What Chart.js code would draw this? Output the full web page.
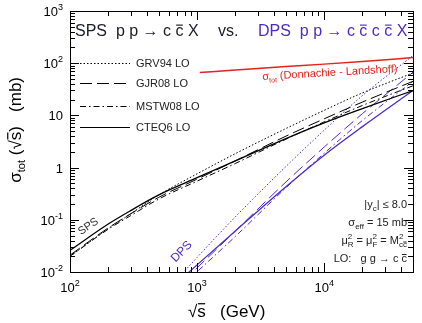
<!DOCTYPE html>
<html>
<head>
<meta charset="utf-8">
<script src="https://cdn.jsdelivr.net/npm/chart.js@4.4.0/dist/chart.umd.min.js"></script>
<style>
  html, body { margin: 0; padding: 0; background: #fff; }
</style>
</head>
<body>
<canvas id="xsec" width="422" height="323"></canvas>
<script>
// sqrt(s) in GeV
var energies = [100, 200, 300, 500, 1000, 2000, 5000, 10000, 20000, 50000];

// single parton scattering pp -> c cbar X, mb
var spsGRV94 = [0.020, 0.068, 0.13, 0.30, 0.76, 1.85, 5.6, 12.5, 27, 65];
var spsGJR08 = [0.021, 0.070, 0.13, 0.27, 0.60, 1.35, 4.0, 8.6, 18, 45];
var spsMSTW08 = [0.020, 0.066, 0.12, 0.25, 0.55, 1.2, 3.5, 7.5, 15.5, 37];
var spsCTEQ6 = [0.026, 0.083, 0.15, 0.30, 0.64, 1.35, 3.6, 7.2, 13.5, 30];

// double parton scattering pp -> c cbar c cbar X, mb
var dpsEnergies = [500, 1000, 2000, 5000, 10000, 20000, 50000];
var dpsGRV94 = [0.003, 0.019, 0.114, 1.05, 5.2, 24, 140];
var dpsGJR08 = [0.0024, 0.012, 0.061, 0.53, 2.47, 10.8, 67];
var dpsMSTW08 = [0.0021, 0.0101, 0.048, 0.41, 1.88, 8.0, 45];
var dpsCTEQ6 = [0.003, 0.0137, 0.061, 0.43, 1.73, 6.1, 30];

// sigma_tot, Donnachie - Landshoff
var dlEnergies = [1050, 2000, 5000, 10000, 20000, 50000];
var dlSigmaTot = [66.5, 74, 86, 96, 108, 128];

var xTicks = [100, 1000, 10000];
var xTickLabels = ['10^2', '10^3', '10^4'];
var yTicks = [0.01, 0.1, 1, 10, 100, 1000];
var yTickLabels = ['10^-2', '10^-1', '1', '10', '10^2', '10^3'];

var FONT = '"Liberation Sans", Arial, sans-serif';
var BLUE = '#4b2ccb';
var RED = '#e3231c';

function pts(xs, ys) {
  return xs.map(function (x, i) { return { x: x, y: ys[i] }; });
}

function curve(label, xs, ys, color, dash, width) {
  return {
    label: label,
    data: pts(xs, ys),
    borderColor: color,
    borderWidth: width || 1,
    borderDash: dash,
    pointRadius: 0,
    fill: false,
    cubicInterpolationMode: 'monotone'
  };
}

var DOT = [1.5, 2];
var DASH = [12, 5];
var DASHDOT = [6, 3, 1.5, 3];
var SOLID = [];

// draw a row of text pieces; piece: {t, size, dy, bar, color, stay}
function richText(ctx, segs, x, y, align, color) {
  var total = 0;
  segs.forEach(function (s) {
    ctx.font = (s.size || 12) + 'px ' + FONT;
    s.w = ctx.measureText(s.t).width;
    if (!s.stay) total += s.w;
  });
  var cx = align === 'right' ? x - total : align === 'center' ? x - total / 2 : x;
  ctx.textBaseline = 'alphabetic';
  ctx.textAlign = 'left';
  segs.forEach(function (s) {
    var size = s.size || 12;
    var by = y + (s.dy || 0);
    ctx.font = size + 'px ' + FONT;
    ctx.fillStyle = s.color || color;
    ctx.fillText(s.t, cx, by);
    if (s.bar) {
      ctx.strokeStyle = s.color || color;
      ctx.lineWidth = Math.max(1, size / 14);
      ctx.beginPath();
      var h = s.barH || 0.68;
      ctx.moveTo(cx + s.w * 0.08, by - size * h);
      ctx.lineTo(cx + s.w * 0.92, by - size * h);
      ctx.stroke();
    }
    if (!s.stay) cx += s.w;
  });
}

function powLabel(ctx, label, x, y, align) {
  var p = label.split('^');
  var segs = [{ t: p[0], size: 13 }];
  if (p[1]) segs.push({ t: p[1], size: 9, dy: -6 });
  richText(ctx, segs, x, y, align, '#000');
}

var rootFrame = {
  id: 'rootFrame',
  afterDatasetsDraw: function (chart) {
    var ctx = chart.ctx;
    var a = chart.chartArea;
    var xs = chart.scales.x, ys = chart.scales.y;
    ctx.save();

    // frame
    ctx.strokeStyle = '#000';
    ctx.lineWidth = 1;
    ctx.strokeRect(Math.round(a.left) + 0.5, Math.round(a.top) + 0.5,
      Math.round(a.right - a.left), Math.round(a.bottom - a.top));

    // ticks inside, on all four sides
    ctx.beginPath();
    for (var d = 2; d <= 4; d++) {
      for (var k = 1; k <= 9; k++) {
        var v = k * Math.pow(10, d);
        if (v < xs.min || v > xs.max) continue;
        var px = Math.round(xs.getPixelForValue(v)) + 0.5;
        var len = k === 1 ? 9 : 5;
        ctx.moveTo(px, a.bottom); ctx.lineTo(px, a.bottom - len);
        ctx.moveTo(px, a.top); ctx.lineTo(px, a.top + len);
      }
    }
    for (var e = -2; e <= 3; e++) {
      for (var m = 1; m <= 9; m++) {
        var w = m * Math.pow(10, e);
        if (w < ys.min || w > ys.max * 1.0001) continue;
        var py = Math.round(ys.getPixelForValue(w)) + 0.5;
        var l2 = m === 1 ? 9 : 5;
        ctx.moveTo(a.left, py); ctx.lineTo(a.left + l2, py);
        ctx.moveTo(a.right, py); ctx.lineTo(a.right - l2, py);
      }
    }
    ctx.stroke();

    // tick labels
    xTicks.forEach(function (v, i) {
      powLabel(ctx, xTickLabels[i], xs.getPixelForValue(v), a.bottom + 20, 'center');
    });
    yTicks.forEach(function (v, i) {
      powLabel(ctx, yTickLabels[i], a.left - 7, ys.getPixelForValue(v) + 5, 'right');
    });

    // axis titles
    richText(ctx, [
      { t: '\u221A', size: 17 }, { t: 's', size: 17, bar: true, barH: 0.78 },
      { t: '   (GeV)', size: 17 }
    ], 188, 317, 'left', '#000');

    ctx.save();
    ctx.translate(21, 77);
    ctx.rotate(-Math.PI / 2);
    richText(ctx, [
      { t: '\u03C3', size: 17 }, { t: 'tot', size: 11, dy: 4 },
      { t: ' (\u221A', size: 17 }, { t: 's', size: 17, bar: true, barH: 0.78 },
      { t: ')   (mb)', size: 17 }
    ], 0, 0, 'right', '#000');
    ctx.restore();

    // headline
    richText(ctx, [
      { t: 'SPS  p p \u2192 c ', size: 16 }, { t: 'c', size: 16, bar: true },
      { t: ' X', size: 16 }
    ], 75, 36, 'left', '#1a1a2a');
    richText(ctx, [{ t: 'vs.', size: 16 }], 218, 36, 'left', '#1a1a2a');
    richText(ctx, [
      { t: 'DPS  p p \u2192 c ', size: 16 }, { t: 'c', size: 16, bar: true },
      { t: ' c ', size: 16 }, { t: 'c', size: 16, bar: true },
      { t: ' X', size: 16 }
    ], 258, 36, 'left', BLUE);

    // legend
    var legend = [
      ['GRV94 LO', DOT, 63], ['GJR08 LO', DASH, 83],
      ['MSTW08 LO', DASHDOT, 106], ['CTEQ6 LO', SOLID, 127]
    ];
    legend.forEach(function (row) {
      ctx.strokeStyle = '#000';
      ctx.lineWidth = 1;
      ctx.setLineDash(row[1]);
      ctx.beginPath();
      ctx.moveTo(80, row[2] + 0.5); ctx.lineTo(130, row[2] + 0.5);
      ctx.stroke();
      ctx.setLineDash([]);
      richText(ctx, [{ t: row[0], size: 11 }], 136, row[2] + 4, 'left', '#222');
    });

    // run conditions
    var rx = 407;
    richText(ctx, [{ t: '|y', size: 11 }, { t: 'c', size: 8, dy: 3 }, { t: '| \u2264 8.0', size: 11 }], rx, 208, 'right', '#222');
    richText(ctx, [{ t: '\u03C3', size: 11 }, { t: 'eff', size: 8, dy: 3 }, { t: ' = 15 mb', size: 11 }], rx, 226, 'right', '#222');
    richText(ctx, [
      { t: '\u03BC', size: 11 }, { t: '2', size: 8, dy: -5, stay: true }, { t: 'R', size: 8, dy: 3 },
      { t: ' = \u03BC', size: 11 }, { t: '2', size: 8, dy: -5, stay: true }, { t: 'F', size: 8, dy: 3 },
      { t: ' = M', size: 11 }, { t: '2', size: 8, dy: -5, stay: true }, { t: 'c', size: 8, dy: 3 },
      { t: 'c', size: 8, dy: 3, bar: true, barH: 0.62 }
    ], rx, 244, 'right', '#222');
    richText(ctx, [{ t: 'LO:   g g \u2192 c ', size: 11 }, { t: 'c', size: 11, bar: true }], rx, 262, 'right', '#222');

    // curve labels
    ctx.save();
    ctx.translate(330, 76);
    ctx.rotate(-0.058);
    richText(ctx, [{ t: '\u03C3', size: 11 }, { t: 'tot', size: 7, dy: 3 },
      { t: ' (Donnachie - Landshoff)', size: 11 }], 0, 0, 'center', RED);
    ctx.restore();

    ctx.save();
    ctx.translate(90, 229);
    ctx.rotate(-0.6);
    richText(ctx, [{ t: 'SPS', size: 11 }], 0, 0, 'center', '#333');
    ctx.restore();

    ctx.save();
    ctx.translate(184, 254);
    ctx.rotate(-0.8);
    richText(ctx, [{ t: 'DPS', size: 12 }], 0, 0, 'center', BLUE);
    ctx.restore();

    ctx.restore();
  }
};

var chart = new Chart(document.getElementById('xsec').getContext('2d'), {
  type: 'line',
  data: {
    datasets: [
      curve('GRV94 LO', energies, spsGRV94, '#000', DOT),
      curve('GJR08 LO', energies, spsGJR08, '#000', DASH),
      curve('MSTW08 LO', energies, spsMSTW08, '#000', DASHDOT),
      curve('CTEQ6 LO', energies, spsCTEQ6, '#000', SOLID, 1.3),
      curve('DPS GRV94', dpsEnergies, dpsGRV94, BLUE, DOT),
      curve('DPS GJR08', dpsEnergies, dpsGJR08, BLUE, DASH),
      curve('DPS MSTW08', dpsEnergies, dpsMSTW08, BLUE, DASHDOT),
      curve('DPS CTEQ6', dpsEnergies, dpsCTEQ6, BLUE, SOLID, 1.3),
      curve('sigma_tot', dlEnergies, dlSigmaTot, RED, SOLID, 1.5)
    ]
  },
  options: {
    responsive: false,
    animation: false,
    devicePixelRatio: 1,
    layout: { padding: { left: 70, right: 9, top: 11, bottom: 51 } },
    scales: {
      x: { type: 'logarithmic', min: 100, max: 50000, display: false },
      y: { type: 'logarithmic', min: 0.01, max: 1000, display: false }
    },
    plugins: {
      legend: { display: false },
      title: { display: false },
      tooltip: { enabled: false }
    }
  },
  plugins: [rootFrame]
});
</script>
</body>
</html>
